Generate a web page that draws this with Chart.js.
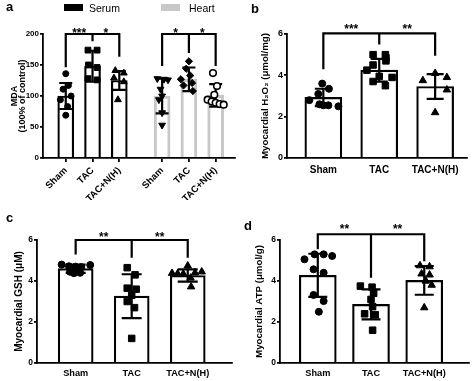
<!DOCTYPE html>
<html>
<head>
<meta charset="utf-8">
<script src="https://cdn.jsdelivr.net/npm/chart.js@4.4.0/dist/chart.umd.min.js"></script>
<style>
  body { margin: 0; background: #fff; }
  #fig { position: relative; width: 474px; height: 381px; overflow: hidden; font-family: "Liberation Sans", Arial, sans-serif; color: #000; }
  #fig canvas { position: absolute; }
  .tag { position: absolute; font-weight: bold; font-size: 13px; line-height: 13px; }
  .key { position: absolute; font-size: 10.5px; line-height: 10px; }
  .sw { position: absolute; width: 19px; height: 7px; }
</style>
</head>
<body>
<div id="fig">
  <canvas id="ca" width="240" height="200" style="left:0;top:0"></canvas>
  <canvas id="cb" width="234" height="190" style="left:240px;top:0"></canvas>
  <canvas id="cc" width="240" height="181" style="left:0;top:200px"></canvas>
  <canvas id="cd" width="234" height="181" style="left:240px;top:200px"></canvas>

  <div class="tag" style="left:6px;top:0px">a</div>
  <div class="tag" style="left:251px;top:2px">b</div>
  <div class="tag" style="left:6px;top:211px">c</div>
  <div class="tag" style="left:244px;top:219px">d</div>

  <div class="sw" style="left:64px;top:4px;background:#000"></div>
  <div class="key" style="left:89px;top:3px">Serum</div>
  <div class="sw" style="left:161px;top:4px;background:#c8c8c8"></div>
  <div class="key" style="left:189px;top:3px">Heart</div>
</div>

<script>
var groups = ['Sham', 'TAC', 'TAC+N(H)'];

// a - MDA (100% of control)
var mdaSerumMean = [100, 148, 125];
var mdaSerumSd = [21, 25, 15];
var mdaSerumPts = [[136, 117, 111, 100, 94, 83, 69], [174, 174, 150, 146, 128, 126], [141, 137, 129, 123, 94]];
var mdaSerumJit = [[0, 0.1, -0.1, 0.2, -0.2, 0.07, 0], [-0.17, 0.17, -0.15, 0.17, -0.17, 0.17], [-0.15, 0.17, -0.2, 0.17, -0.05]];
var mdaHeartMean = [100, 127, 101];
var mdaHeartSd = [28, 19, 18];
var mdaHeartPts = [[128, 127, 126, 111, 100, 94, 73, 53], [156, 144, 133, 127, 121, 117, 108], [137, 116, 102, 94, 91, 89, 87, 86]];
var mdaHeartJit = [[-0.18, 0.07, 0.22, -0.06, 0, -0.12, 0, 0], [0, -0.1, 0.05, -0.3, 0.12, -0.2, 0.15], [-0.1, 0.05, -0.05, -0.3, -0.15, 0, 0.15, 0.3]];
var mdaTicks = [0, 50, 100, 150, 200];

// b - H2O2
var h2o2Mean = [2.93, 4.25, 3.46];
var h2o2Sd = [0.42, 0.55, 0.6];
var h2o2Pts = [[3.6, 3.35, 3.1, 2.8, 2.6, 2.55, 2.55, 2.5], [5.0, 5.0, 4.85, 4.7, 4.5, 4.25, 3.95, 3.9, 3.7, 3.5], [4.1, 3.9, 3.75, 3.3, 2.2]];
var h2o2Jit = [[-0.02, 0.1, -0.09, -0.25, -0.07, 0, 0.09, 0.27], [-0.11, 0.11, 0.12, 0.12, -0.11, -0.22, 0, 0.23, -0.11, 0.11], [0, 0.21, -0.22, 0.21, 0]];

// c - GSH
var gshMean = [4.6, 3.26, 4.27];
var gshSd = [0.2, 1.07, 0.3];
var gshPts = [[4.8, 4.78, 4.72, 4.7, 4.68, 4.45, 4.4, 4.38], [4.65, 4.3, 3.65, 3.6, 3.3, 3.0, 2.7, 1.2], [4.74, 4.45, 4.4, 4.38, 4.36, 4.35, 4.15, 3.72]];
var gshJit = [[-0.25, 0.26, -0.12, 0, 0.1, -0.1, 0.08, -0.03], [-0.08, 0.06, -0.08, 0.08, 0, -0.08, 0.05, 0], [0, 0.25, 0.13, -0.28, -0.18, -0.08, 0.05, 0.06]];

// d - ATP
var atpMean = [4.28, 2.86, 4.03];
var atpSd = [1.05, 0.73, 0.7];
var atpPts = [[5.3, 5.3, 5.22, 5.06, 4.57, 4.4, 3.32, 3.02, 2.5], [3.75, 3.7, 3.4, 3.1, 2.75, 2.4, 2.35, 1.6], [4.75, 4.7, 4.35, 4.3, 4.0, 3.8, 2.7]];
var atpJit = [[-0.06, 0.11, 0.27, -0.25, -0.08, 0.11, -0.08, 0.11, 0.02], [-0.2, 0.02, 0.05, 0, 0.03, -0.12, 0.08, 0.03], [-0.08, 0.1, -0.05, 0.1, 0.03, 0.14, 0]];
var umolTicks = [0, 2, 4, 6];

// significance brackets: top level, leg ends, stars
var mdaSerumSig = { top: 200, legs: [148, 190, 165], stars: ['***', '*'] };
var mdaHeartSig = { top: 200, legs: [150, 171, 150], stars: ['*', '*'] };
var h2o2Sig = { top: 6.03, legs: [4.35, 5.55, 5.0], stars: ['***', '**'] };
var gshSig = { top: 6.0, legs: [5.35, 5.19, 5.19], stars: ['**', '**'] };
var atpSig = { top: 6.28, legs: [5.6, 4.21, 5.02], stars: ['**', '**'] };

Chart.defaults.font.family = '"Liberation Sans", Arial, sans-serif';
Chart.defaults.font.weight = 'bold';
Chart.defaults.color = '#000';

// error bars drawn right after each bar dataset, before the dots
var errorBars = {
  id: 'errorBars',
  afterDatasetDraw: function (chart, args) {
    var ds = chart.data.datasets[args.index];
    if (!ds.sd) return;
    var ctx = chart.ctx, xs = chart.scales.x, ys = chart.scales.y;
    var w = ds.cap / 2;
    ctx.save();
    ctx.strokeStyle = '#000';
    ctx.lineWidth = 2.2;
    ds.data.forEach(function (p, i) {
      var px = xs.getPixelForValue(p.x);
      var top = ys.getPixelForValue(p.y + ds.sd[i]);
      var bot = ys.getPixelForValue(p.y - ds.sd[i]);
      ctx.beginPath();
      ctx.moveTo(px, top); ctx.lineTo(px, bot);
      ctx.moveTo(px - w, top); ctx.lineTo(px + w, top);
      ctx.moveTo(px - w, bot); ctx.lineTo(px + w, bot);
      ctx.stroke();
    });
    ctx.restore();
  }
};

function bracketPlugin(list, gap) {
  return {
    id: 'brackets',
    afterDraw: function (chart) {
      var ctx = chart.ctx, xs = chart.scales.x, ys = chart.scales.y;
      ctx.save();
      ctx.strokeStyle = '#000';
      ctx.fillStyle = '#000';
      ctx.lineWidth = 2.2;
      ctx.lineCap = 'square';
      ctx.font = 'bold 12px "Liberation Sans", Arial, sans-serif';
      ctx.textAlign = 'center';
      ctx.textBaseline = 'alphabetic';
      list.forEach(function (b) {
        var yt = ys.getPixelForValue(b.sig.top);
        var px = b.pos.map(function (v) { return xs.getPixelForValue(v); });
        ctx.beginPath();
        ctx.moveTo(px[0], yt);
        ctx.lineTo(px[px.length - 1], yt);
        px.forEach(function (x, i) {
          ctx.moveTo(x, yt);
          ctx.lineTo(x, ys.getPixelForValue(b.sig.legs[i]));
        });
        ctx.stroke();
        b.sig.stars.forEach(function (s, i) {
          ctx.fillText(s, (px[i] + px[i + 1]) / 2, yt - gap + 7);
        });
      });
      ctx.restore();
    }
  };
}

function barSet(pos, mean, sd, color, width, thick, cap) {
  return {
    type: 'bar',
    order: 2,
    data: pos.map(function (x, i) { return { x: x, y: mean[i] }; }),
    sd: sd,
    cap: cap,
    backgroundColor: '#fff',
    borderColor: color,
    borderWidth: width,
    barThickness: thick,
    grouped: false
  };
}

function dotSet(x, pts, jit, style) {
  return {
    type: 'scatter',
    order: 1,
    data: pts.map(function (v, i) { return { x: x + jit[i], y: v }; }),
    pointStyle: style.shape,
    pointRadius: style.r,
    pointRotation: style.rot || 0,
    backgroundColor: style.fill || '#000',
    borderColor: '#000',
    borderWidth: style.bw || 1
  };
}

function xAxis(pos, min, max, rot, pad, fontSize, height) {
  return {
    type: 'linear',
    min: min,
    max: max,
    offset: false,
    afterBuildTicks: function (s) { s.ticks = pos.map(function (v) { return { value: v }; }); },
    afterFit: function (s) { s.height = height; },
    ticks: {
      autoSkip: false,
      minRotation: rot,
      maxRotation: rot,
      padding: pad,
      font: { size: fontSize },
      callback: function (v, i) { return groups[i % 3]; }
    },
    grid: { display: rot > 0, drawOnChartArea: false, drawTicks: rot > 0, tickLength: 4, color: '#000', lineWidth: 1.8, offset: false },
    border: { color: '#000', width: 1.8 }
  };
}

function yAxis(ticks, title, titleSize, lineH, titlePad, width, tickSize) {
  return {
    min: ticks[0],
    max: ticks[ticks.length - 1],
    afterBuildTicks: function (s) { s.ticks = ticks.map(function (v) { return { value: v }; }); },
    afterFit: function (s) { s.width = width; },
    ticks: { padding: 1, font: { size: tickSize } },
    grid: { drawOnChartArea: false, tickLength: 3, color: '#000', lineWidth: 1.8 },
    border: { color: '#000', width: 1.8 },
    title: { display: true, text: title, font: { size: titleSize, lineHeight: lineH }, padding: { top: titlePad, bottom: 0 } }
  };
}

function baseOptions(pad, x, y) {
  return {
    responsive: false,
    animation: false,
    events: [],
    layout: { padding: pad },
    plugins: { legend: { display: false }, tooltip: { enabled: false } },
    scales: { x: x, y: y }
  };
}

var circle = { shape: 'circle', r: 3.5 };
var square = { shape: 'rect', r: 4.6 };
var tri = { shape: 'triangle', r: 4.3 };

// panel a
var serumPos = [0, 1, 2];
var heartPos = [3.6, 4.6, 5.6];
var aDots = [];
var aStyles = [{ shape: 'circle', r: 3 }, { shape: 'rect', r: 4.1 }, { shape: 'triangle', r: 3.9 }];
var hStyles = [{ shape: 'triangle', r: 3.9, rot: 180 }, { shape: 'rectRot', r: 3.6 }, { shape: 'circle', r: 3.3, fill: '#fff', bw: 1.6 }];
for (var i = 0; i < 3; i++) {
  aDots.push(dotSet(serumPos[i], mdaSerumPts[i], mdaSerumJit[i], aStyles[i]));
  aDots.push(dotSet(heartPos[i], mdaHeartPts[i], mdaHeartJit[i], hStyles[i]));
}
new Chart(document.getElementById('ca'), {
  type: 'bar',
  data: {
    datasets: [
      barSet(serumPos, mdaSerumMean, mdaSerumSd, '#000', 2.2, 16, 13),
      barSet(heartPos, mdaHeartMean, mdaHeartSd, '#c8c8c8', 3, 16, 13)
    ].concat(aDots)
  },
  options: baseOptions({ top: 34, right: 2, left: 0, bottom: 0 },
    xAxis(serumPos.concat(heartPos), -0.85, 6.3, 45, 3, 9.5, 42),
    yAxis(mdaTicks, ['MDA', '(100% of control)'], 9, '8.5px', 10, 43, 8)),
  plugins: [errorBars, bracketPlugin([{ pos: serumPos, sig: mdaSerumSig }, { pos: heartPos, sig: mdaHeartSig }], 4.5)]
});

// panels b, c, d share the same layout
function simplePanel(id, mean, sd, pts, jit, sig, opt) {
  var pos = [0, 1, 2];
  var shapes = [circle, square, tri];
  var dots = pos.map(function (x, i) { return dotSet(x, pts[i], jit[i], shapes[i]); });
  new Chart(document.getElementById(id), {
    type: 'bar',
    data: { datasets: [barSet(pos, mean, sd, '#000', 2.2, opt.bar, opt.cap)].concat(dots) },
    options: baseOptions({ top: opt.top, right: opt.right, left: 0, bottom: 0 },
      xAxis(pos, opt.min, opt.max, 0, opt.labPad, opt.labSize, opt.xh),
      yAxis(umolTicks, opt.title, opt.titleSize, '10px', opt.titlePad, opt.yw, opt.tickSize)),
    plugins: [errorBars, bracketPlugin([{ pos: pos, sig: sig }], opt.gap)]
  });
}

simplePanel('cb', h2o2Mean, h2o2Sd, h2o2Pts, h2o2Jit, h2o2Sig,
  { top: 34, right: 7, min: -0.65, max: 2.57, labPad: 6, labSize: 10, xh: 32, bar: 37, cap: 17,
    title: 'Myocardial H\u2082O\u2082 (\u03bcmol/mg)', titleSize: 9.7, titlePad: 20, yw: 47, tickSize: 9, gap: 7 });

simplePanel('cc', gshMean, gshSd, gshPts, gshJit, gshSig,
  { top: 40, right: 8, min: -0.69, max: 2.79, labPad: 4.5, labSize: 9.2, xh: 18, bar: 35, cap: 20,
    title: 'Myocardial GSH (\u03bcM)', titleSize: 10, titlePad: 14, yw: 37, tickSize: 8.5, gap: 6 });

simplePanel('cd', atpMean, atpSd, atpPts, atpJit, atpSig,
  { top: 40, right: 1, min: -0.71, max: 2.83, labPad: 4.5, labSize: 9.2, xh: 18, bar: 37, cap: 19,
    title: 'Myocardial ATP (\u03bcmol/g)', titleSize: 9.7, titlePad: 14.5, yw: 40, tickSize: 8.5, gap: 8 });
</script>
</body>
</html>
